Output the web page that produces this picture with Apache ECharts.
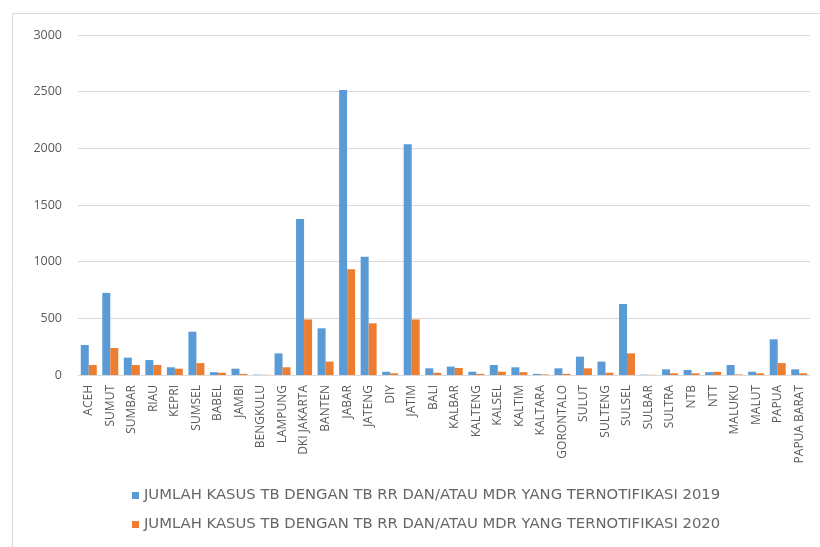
<!DOCTYPE html>
<html><head><meta charset="utf-8">
<script src="https://cdn.jsdelivr.net/npm/echarts@6/dist/echarts.min.js"></script>
<style>html,body{margin:0;padding:0;background:#fff}#c{width:820px;height:547px}</style>
</head><body><div id="c"></div>
<script>
const categories = ['ACEH','SUMUT','SUMBAR','RIAU','KEPRI','SUMSEL','BABEL','JAMBI','BENGKULU','LAMPUNG','DKI JAKARTA','BANTEN','JABAR','JATENG','DIY','JATIM','BALI','KALBAR','KALTENG','KALSEL','KALTIM','KALTARA','GORONTALO','SULUT','SULTENG','SULSEL','SULBAR','SULTRA','NTB','NTT','MALUKU','MALUT','PAPUA','PAPUA BARAT'];
const values2019 = [265,725,153,132,68,382,25,56,3,191,1376,412,2514,1043,29,2037,59,74,29,88,68,10,59,162,118,626,3,50,44,25,88,29,315,50];
const values2020 = [88,238,88,88,56,105,20,10,2,68,490,118,932,456,15,490,20,62,10,29,25,5,10,59,20,191,2,15,15,28,5,15,105,15];
const seriesNames = ['JUMLAH KASUS TB DENGAN TB RR DAN/ATAU MDR YANG TERNOTIFIKASI 2019','JUMLAH KASUS TB DENGAN TB RR DAN/ATAU MDR YANG TERNOTIFIKASI 2020'];
const yTicks = {min:0, max:3000, interval:500};

const chart = echarts.init(document.getElementById('c'));
const font = '"Open Sans", "Liberation Sans", sans-serif';
chart.setOption({
  animation:false,
  textStyle:{fontFamily:font},
  graphic:[{type:'rect',shape:{x:12.5,y:13.5,width:830,height:560},style:{fill:null,stroke:'#d9d9d9',lineWidth:1},silent:true}],
  grid:{left:78,right:10,top:35,bottom:172},
  legend:{orient:'vertical',left:127,top:483,itemWidth:7,itemHeight:7,itemGap:14,icon:'rect',
    textStyle:{fontSize:14.8,color:'#666666',fontFamily:'"DejaVu Sans", sans-serif'},data:seriesNames},
  xAxis:{type:'category',data:categories,
    axisLine:{lineStyle:{color:'#d9d9d9'}},axisTick:{show:false},
    axisLabel:{rotate:90,interval:0,fontSize:12,color:'#595959',margin:10}},
  yAxis:{type:'value',min:yTicks.min,max:yTicks.max,interval:yTicks.interval,
    axisLine:{show:false},axisTick:{show:false},
    axisLabel:{fontSize:12.5,color:'#595959',margin:16,formatter:v=>String(v)},
    splitLine:{lineStyle:{color:'#d9d9d9'}}},
  series:[
    {name:seriesNames[0],type:'bar',data:values2019,barWidth:8,barGap:'0%',itemStyle:{color:'#5B9BD5'}},
    {name:seriesNames[1],type:'bar',data:values2020,barWidth:8,barGap:'0%',itemStyle:{color:'#ED7D31'}}
  ]
});
</script></body></html>
